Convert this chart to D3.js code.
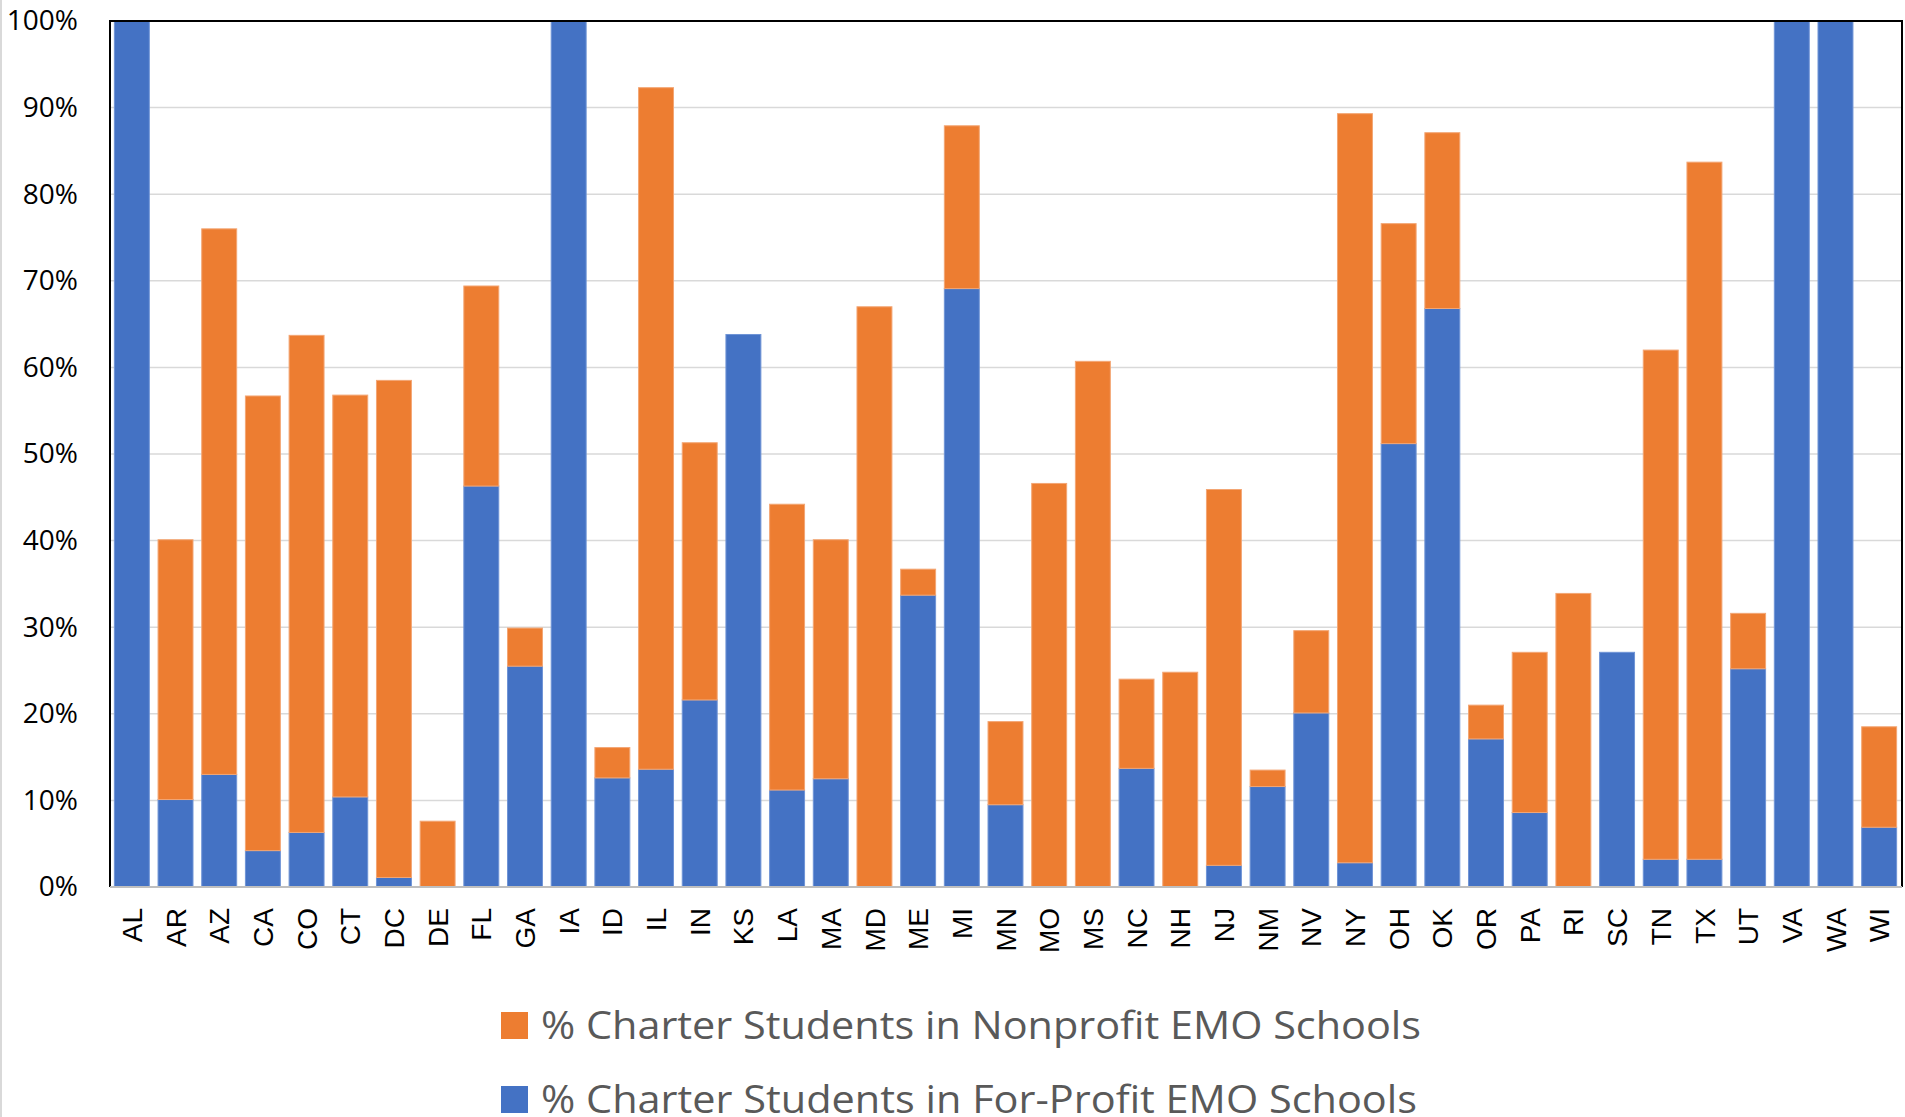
<!DOCTYPE html>
<html>
<head>
<meta charset="utf-8">
<script src="https://cdn.jsdelivr.net/npm/d3@7"></script>
<style>
  html, body { margin: 0; padding: 0; background: #fff; }
  svg { display: block; }
</style>
</head>
<body>
<svg id="chart" width="1905" height="1117"></svg>
<script>
// States with charter students enrolled in EMO-operated schools
const states = ["AL","AR","AZ","CA","CO","CT","DC","DE","FL","GA","IA","ID","IL","IN","KS","LA","MA","MD","ME","MI","MN","MO","MS","NC","NH","NJ","NM","NV","NY","OH","OK","OR","PA","RI","SC","TN","TX","UT","VA","WA","WI"];

// % of charter students in for-profit EMO schools (bottom segment)
const forProfit = [100,10.1,13.0,4.2,6.3,10.4,1.1,0,46.3,25.5,100,12.6,13.6,21.6,63.8,11.2,12.5,0,33.7,69.1,9.5,0,0,13.7,0,2.5,11.6,20.1,2.8,51.2,66.8,17.1,8.6,0,27.1,3.2,3.2,25.2,100,100,6.9];

// % of charter students in nonprofit EMO schools (top segment)
const nonProfit = [0,30.0,63.0,52.5,57.4,46.4,57.4,7.6,23.1,4.4,0,3.5,78.7,29.7,0,33.0,27.6,67.0,3.0,18.8,9.6,46.6,60.7,10.3,24.8,43.4,1.9,9.5,86.5,25.4,20.3,3.9,18.5,33.9,0,58.8,80.5,6.4,0,0,11.6];

const yTicks = [0,10,20,30,40,50,60,70,80,90,100];

const seriesNames = ["% Charter Students in Nonprofit EMO Schools", "% Charter Students in For-Profit EMO Schools"];
const seriesKeys = ["nonProfit", "forProfit"];
const colors = { forProfit: "#4472C4", nonProfit: "#ED7D31" };
const strokes = { forProfit: "#6f94d6", nonProfit: "#f3a674" };

const rows = states.map((s, i) => ({ state: s, forProfit: forProfit[i], nonProfit: nonProfit[i] }));

const svg = d3.select("#chart");
const plotLeft = 110, plotRight = 1901, plotTop = 21, plotBottom = 887;

const x = d3.scaleBand().domain(states).range([plotLeft, plotRight]).paddingInner(0.2).paddingOuter(0.1);
const y = d3.scaleLinear().domain([0, 100]).range([plotBottom, plotTop]);

// Outer chart frame line on the far left
svg.append("line").attr("x1", 1).attr("x2", 1).attr("y1", 0).attr("y2", 1117)
  .attr("stroke", "#d9d9d9").attr("stroke-width", 2);

// Horizontal gridlines
svg.append("g").selectAll("line").data(yTicks.filter(t => t > 0 && t < 100)).join("line")
  .attr("x1", plotLeft).attr("x2", plotRight)
  .attr("y1", d => y(d)).attr("y2", d => y(d))
  .attr("stroke", "#d9d9d9").attr("stroke-width", 1.5);

// Stacked bars: for-profit at the base, nonprofit on top
const stack = d3.stack().keys(["forProfit", "nonProfit"]);
const layers = stack(rows);
svg.append("g").selectAll("g").data(layers).join("g")
  .attr("fill", d => colors[d.key])
  .attr("stroke", d => strokes[d.key])
  .attr("stroke-width", 1)
  .selectAll("rect").data(d => d.filter(v => v[1] - v[0] > 0)).join("rect")
  .attr("x", d => x(d.data.state))
  .attr("width", x.bandwidth())
  .attr("y", d => y(d[1]))
  .attr("height", d => y(d[0]) - y(d[1]));

// Plot frame: black top, left and right; grey base axis
svg.append("path")
  .attr("d", `M${plotLeft},${plotBottom}V${plotTop}H${plotRight + 1}V${plotBottom}`)
  .attr("fill", "none").attr("stroke", "#000").attr("stroke-width", 2);
svg.append("line").attr("x1", plotLeft).attr("x2", plotRight + 1).attr("y1", plotBottom).attr("y2", plotBottom)
  .attr("stroke", "#bfbfbf").attr("stroke-width", 2);

// Y axis labels
const yAxis = d3.axisLeft(y).tickValues(yTicks).tickFormat(d => d + "%").tickSize(0).tickPadding(32);
const yg = svg.append("g").attr("transform", `translate(${plotLeft},0)`).call(yAxis);
yg.select(".domain").remove();
yg.selectAll("text")
  .attr("font-family", "'Open Sans', sans-serif")
  .attr("font-size", 28)
  .attr("fill", "#000");

// X axis labels, rotated
const xAxis = d3.axisBottom(x).tickSize(0);
const xg = svg.append("g").attr("transform", `translate(0,${plotBottom})`).call(xAxis);
xg.select(".domain").remove();
xg.selectAll("text")
  .attr("font-family", "'Liberation Sans', Arial, sans-serif")
  .attr("font-size", 28)
  .attr("fill", "#000")
  .attr("text-anchor", "end")
  .attr("transform", "rotate(-90)")
  .attr("x", -21)
  .attr("y", 0)
  .attr("dy", "0.36em");

// Legend
const legendY = [1012, 1086];
const legendW = [880, 876];
const legend = svg.append("g").selectAll("g").data(seriesKeys).join("g");
legend.append("rect")
  .attr("x", 501).attr("y", (d, i) => legendY[i])
  .attr("width", 27).attr("height", 27)
  .attr("fill", d => colors[d]);
legend.append("text")
  .attr("x", 541).attr("y", (d, i) => legendY[i] + 27)
  .attr("font-family", "'Open Sans', sans-serif")
  .attr("font-size", 39)
  .attr("fill", "#595959")
  .attr("textLength", (d, i) => legendW[i])
  .attr("lengthAdjust", "spacingAndGlyphs")
  .text((d, i) => seriesNames[i]);
</script>
</body>
</html>
